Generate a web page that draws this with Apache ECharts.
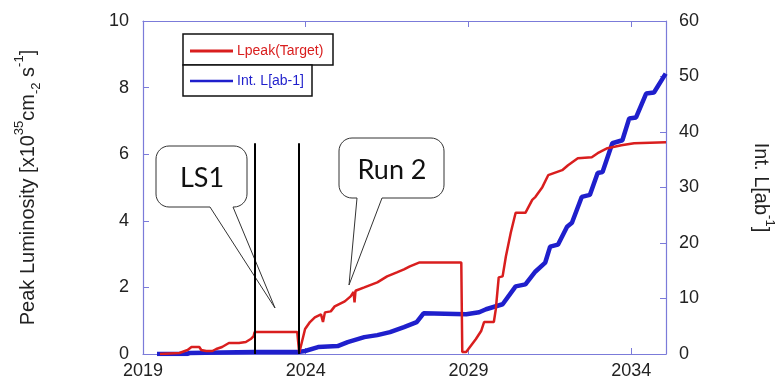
<!DOCTYPE html>
<html>
<head>
<meta charset="utf-8">
<script src="https://cdn.jsdelivr.net/npm/echarts@6/dist/echarts.min.js"></script>
<style>
  html, body { margin: 0; padding: 0; background: #fff; }
  #chart { width: 784px; height: 380px; }
</style>
</head>
<body>
<div id="chart"></div>
<script>
// Peak luminosity (left axis, x10^35 cm^-2 s^-1)
const lpeakYears = [2019.52, 2020.12, 2020.37, 2020.49, 2020.73, 2020.79, 2020.94, 2021.13, 2021.25, 2021.43,
  2021.64, 2021.95, 2022.16, 2022.31, 2022.40, 2022.43, 2023.74, 2023.80, 2023.83, 2023.98,
  2024.13, 2024.28, 2024.47, 2024.53, 2024.59, 2024.77, 2024.89, 2025.20, 2025.38, 2025.47,
  2025.50, 2025.53, 2025.80, 2026.20, 2026.50, 2026.80, 2027.02, 2027.20, 2027.50, 2028.78,
  2028.81, 2028.93, 2029.23, 2029.39, 2029.48, 2029.78, 2029.84, 2029.93, 2030.05, 2030.15,
  2030.30, 2030.45, 2030.75, 2030.96, 2031.06, 2031.27, 2031.45, 2031.88, 2032.06, 2032.36,
  2032.79, 2032.97, 2033.27, 2033.70, 2034.09, 2035.07];
const lpeakValues = [0.00, 0.03, 0.12, 0.21, 0.21, 0.12, 0.09, 0.09, 0.15, 0.21,
  0.33, 0.33, 0.36, 0.45, 0.54, 0.66, 0.66, 0.03, 0.09, 0.75,
  0.96, 1.10, 1.19, 0.96, 1.25, 1.28, 1.43, 1.58, 1.73, 1.86,
  1.55, 1.90, 2.00, 2.15, 2.33, 2.45, 2.54, 2.63, 2.75, 2.75,
  0.06, 0.06, 0.45, 0.69, 0.96, 0.96, 1.34, 2.30, 2.33, 2.93,
  3.64, 4.24, 4.24, 4.63, 4.72, 5.01, 5.37, 5.52, 5.67, 5.88,
  5.91, 6.03, 6.18, 6.27, 6.33, 6.36];

// Integrated luminosity (right axis, ab^-1)
const intLYears = [2019.43, 2020.34, 2020.43, 2022.40, 2023.77, 2023.98, 2024.38, 2024.98, 2025.29, 2025.80,
  2026.20, 2026.59, 2027.02, 2027.41, 2027.62, 2028.93, 2029.33, 2029.54, 2030.05, 2030.45,
  2030.75, 2031.06, 2031.36, 2031.51, 2031.75, 2032.03, 2032.18, 2032.48, 2032.73, 2032.97,
  2033.12, 2033.42, 2033.73, 2033.94, 2034.15, 2034.46, 2034.70, 2035.06];
const intLValues = [0.00, 0.00, 0.18, 0.36, 0.36, 0.54, 1.25, 1.43, 2.15, 3.04,
  3.40, 3.94, 4.84, 5.73, 7.34, 7.16, 7.52, 8.06, 8.96, 12.18,
  12.54, 14.87, 16.48, 19.34, 19.70, 22.93, 23.64, 28.30, 28.66, 32.60,
  32.78, 37.97, 38.51, 42.45, 42.63, 46.93, 47.11, 50.51];

// Long shutdown boundaries and the height of their markers (left axis units)
const shutdownYears = [2022.43, 2023.80];
const shutdownTop = 6.33;

const xTicks = [2019, 2024, 2029, 2034];

const RED = '#d91e1e';
const BLUE = '#1f1fcc';
const FRAME = '#7b7bd9';
const TXT = '#222';

const zip = (xs, ys) => xs.map((x, i) => [x, ys[i]]);

// speech-bubble outline as polygon points: rounded box with a tail leaving its bottom edge
function bubble(x0, y0, x1, y1, r, tailA, tailB, tip) {
  const pts = [];
  const arc = (cx, cy, a0, a1) => {
    for (let i = 0; i <= 8; i++) {
      const a = a0 + (a1 - a0) * i / 8;
      pts.push([cx + r * Math.cos(a), cy + r * Math.sin(a)]);
    }
  };
  const P = Math.PI;
  arc(x0 + r, y0 + r, P, 1.5 * P);          // top-left
  arc(x1 - r, y0 + r, 1.5 * P, 2 * P);      // top-right
  arc(x1 - r, y1 - r, 0, 0.5 * P);          // bottom-right
  pts.push([tailB, y1], tip, [tailA, y1]);
  arc(x0 + r, y1 - r, 0.5 * P, P);          // bottom-left
  return pts;
}

const axisFont = { fontFamily: 'Liberation Sans, Arial, sans-serif', fontSize: 18, color: TXT };
const nameFont = 'Liberation Sans, Arial, sans-serif';

const chart = echarts.init(document.getElementById('chart'), null, { renderer: 'canvas' });

const option = {
  animation: false,
  backgroundColor: '#fff',
  grid: { left: 143, right: 112, top: 21, bottom: 25, containLabel: false },
  xAxis: [{
    type: 'value', position: 'bottom', min: 2019, max: 2035.07, interval: 5,
    axisLine: { show: true, onZero: false, lineStyle: { color: FRAME, width: 1.2 } },
    axisTick: { show: true, inside: true, length: 6, lineStyle: { color: FRAME } },
    axisLabel: Object.assign({ margin: 8, showMaxLabel: false,
      formatter: v => xTicks.includes(v) ? String(v) : '' }, axisFont),
    splitLine: { show: false }
  }, {
    type: 'value', position: 'top', min: 2019, max: 2035.07, interval: 5,
    axisLine: { show: true, onZero: false, lineStyle: { color: FRAME, width: 1.2 } },
    axisTick: { show: true, inside: true, length: 6, lineStyle: { color: FRAME } },
    axisLabel: { show: false },
    splitLine: { show: false }
  }],
  yAxis: [{
    type: 'value', position: 'left', min: 0, max: 10, interval: 2,
    axisLine: { show: true, onZero: false, lineStyle: { color: FRAME, width: 1.2 } },
    axisTick: { show: true, inside: true, length: 6, lineStyle: { color: FRAME } },
    axisLabel: Object.assign({ margin: 14 }, axisFont),
    splitLine: { show: false },
    name: '{t|Peak Luminosity [x10}{sup|35}{t|cm}{sub|-2}{t| s}{sup|-1}{t|]}',
    nameLocation: 'middle', nameRotate: 90, nameGap: 100,
    nameTextStyle: {
      rich: {
        t: { fontFamily: nameFont, fontSize: 20, color: TXT, lineHeight: 30, verticalAlign: 'middle' },
        sup: { fontFamily: nameFont, fontSize: 13, color: TXT, lineHeight: 30, verticalAlign: 'top' },
        sub: { fontFamily: nameFont, fontSize: 13, color: TXT, lineHeight: 30, verticalAlign: 'bottom' }
      }
    }
  }, {
    type: 'value', position: 'right', min: 0, max: 60, interval: 10,
    axisLine: { show: true, onZero: false, lineStyle: { color: FRAME, width: 1.2 } },
    axisTick: { show: true, inside: true, length: 6, lineStyle: { color: FRAME } },
    axisLabel: Object.assign({ margin: 13 }, axisFont),
    splitLine: { show: false },
    name: '{t|Int. L[ab}{sup|-1}{t|]}',
    nameLocation: 'middle', nameRotate: -90, nameGap: 80,
    nameTextStyle: {
      rich: {
        t: { fontFamily: nameFont, fontSize: 20, color: TXT, lineHeight: 30, verticalAlign: 'middle' },
        sup: { fontFamily: nameFont, fontSize: 13, color: TXT, lineHeight: 30, verticalAlign: 'top' }
      }
    }
  }],
  series: [{
    name: 'Lpeak(Target)', type: 'line', xAxisIndex: 0, yAxisIndex: 0,
    data: zip(lpeakYears, lpeakValues), showSymbol: false, symbol: 'none',
    lineStyle: { color: RED, width: 2.5 }, z: 4,
    markLine: {
      silent: true, symbol: 'none', label: { show: false },
      lineStyle: { color: '#000', width: 2, type: 'solid' },
      data: shutdownYears.map(y => [{ coord: [y, 0] }, { coord: [y, shutdownTop] }])
    }
  }, {
    name: 'Int. L[ab-1]', type: 'line', xAxisIndex: 0, yAxisIndex: 1,
    data: zip(intLYears, intLValues), showSymbol: false, symbol: 'none',
    lineStyle: { color: BLUE, width: 4.5 }, z: 3
  }],
  graphic: [
    // callouts
    { type: 'polygon', z: 1, shape: { points: bubble(156, 146, 247, 207, 13, 210, 233, [275, 308]) },
      style: { fill: '#fff', stroke: '#333', lineWidth: 1 } },
    { type: 'text', z: 2, x: 202, y: 178,
      style: { text: 'LS1', font: '27px Lato, "Open Sans", sans-serif', fill: '#111', align: 'center', verticalAlign: 'middle' } },
    { type: 'polygon', z: 1, shape: { points: bubble(339, 138, 444, 198, 13, 357, 382, [349, 285]) },
      style: { fill: '#fff', stroke: '#333', lineWidth: 1 } },
    { type: 'text', z: 2, x: 392, y: 170,
      style: { text: 'Run 2', font: '27px Lato, "Open Sans", sans-serif', fill: '#111', align: 'center', verticalAlign: 'middle' } },
    // legend boxes
    { type: 'rect', z: 5, shape: { x: 183, y: 34, width: 150, height: 31 },
      style: { fill: '#fff', stroke: '#111', lineWidth: 1.5 } },
    { type: 'line', z: 6, shape: { x1: 190, y1: 51, x2: 233, y2: 51 },
      style: { stroke: RED, lineWidth: 3 } },
    { type: 'text', z: 6, x: 237, y: 51,
      style: { text: 'Lpeak(Target)', font: '14px "Liberation Sans", Arial, sans-serif', fill: RED, verticalAlign: 'middle' } },
    { type: 'rect', z: 5, shape: { x: 183, y: 65, width: 129, height: 31 },
      style: { fill: '#fff', stroke: '#111', lineWidth: 1.5 } },
    { type: 'line', z: 6, shape: { x1: 190, y1: 81, x2: 233, y2: 81 },
      style: { stroke: BLUE, lineWidth: 2.5 } },
    { type: 'text', z: 6, x: 237, y: 81,
      style: { text: 'Int. L[ab-1]', font: '14px "Liberation Sans", Arial, sans-serif', fill: BLUE, verticalAlign: 'middle' } }
  ]
};

chart.setOption(option);
</script>
</body>
</html>
